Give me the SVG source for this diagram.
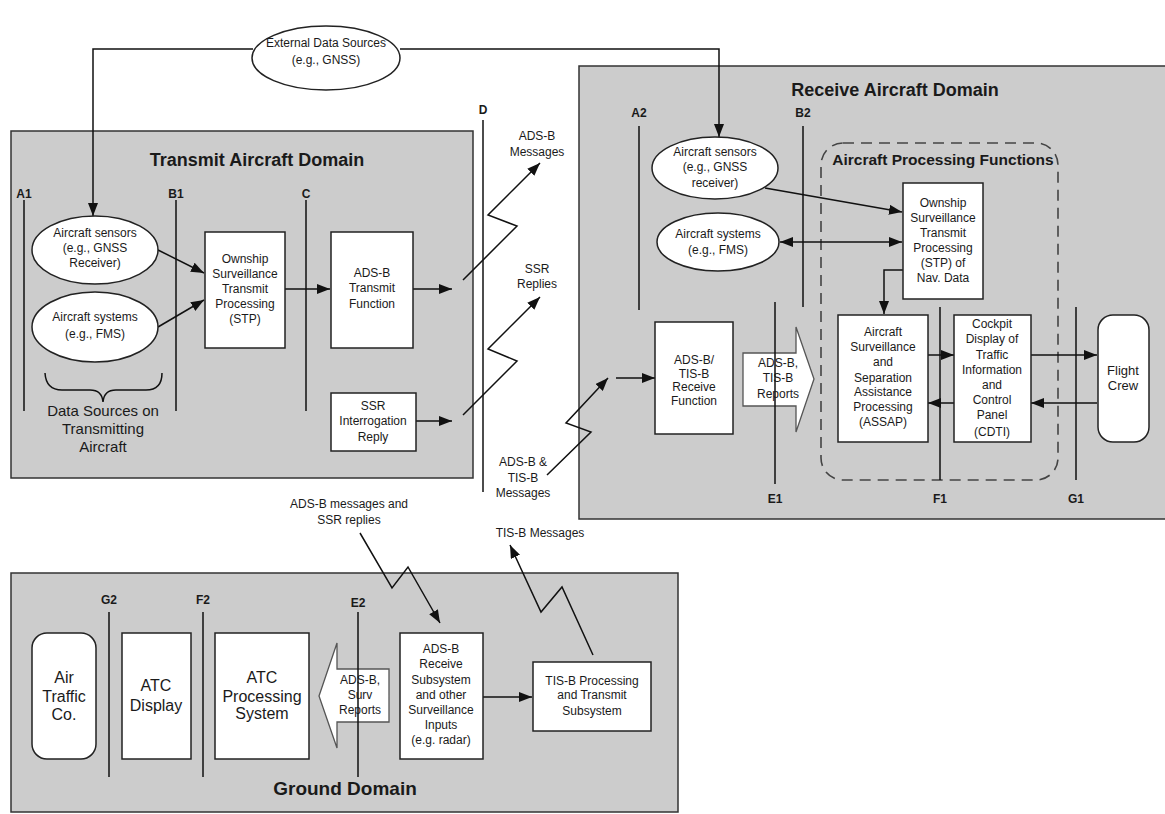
<svg xmlns="http://www.w3.org/2000/svg" width="1165" height="814" viewBox="0 0 1165 814">
<style>
.dom{fill:#cccccc;stroke:#333;stroke-width:1.5}
.box{fill:#fff;stroke:#222;stroke-width:1.5}
.ell{fill:#fff;stroke:#222;stroke-width:1.5}
.hol{fill:#fff;stroke:#555;stroke-width:1.3}
.ln{fill:none;stroke:#111;stroke-width:1.5}
.ar{fill:none;stroke:#111;stroke-width:1.5;marker-end:url(#ah)}
.dash{fill:none;stroke:#444;stroke-width:1.6;stroke-dasharray:11,7}
text{font-family:"Liberation Sans",Arial,sans-serif;fill:#1a1a1a;text-anchor:middle}
.t12{font-size:12px}
.t15{font-size:15px}
.t16{font-size:16px}
.lb{font-size:12px;font-weight:bold}
.h16{font-size:18px;font-weight:bold}
.h14{font-size:15.5px;font-weight:bold}
.h18{font-size:19px;font-weight:bold}
</style>
<defs>
<marker id="ah" markerUnits="userSpaceOnUse" markerWidth="14" markerHeight="10" refX="13" refY="5" orient="auto-start-reverse">
<path d="M0,0 L13,5 L0,10 z" fill="#111"/>
</marker>
</defs>

<!-- Domains -->
<g id="transmit-domain">
<rect class="dom" x="11" y="131" width="462" height="347"/>
<text class="h16" x="257" y="166">Transmit Aircraft Domain</text>
</g>
<g id="receive-domain">
<rect class="dom" x="579" y="66" width="600" height="453"/>
<text class="h16" x="895" y="96">Receive Aircraft Domain</text>
</g>
<g id="ground-domain">
<rect class="dom" x="11" y="573" width="667" height="239"/>
<text class="h18" x="345" y="795">Ground Domain</text>
</g>
<g id="processing-functions">
<rect class="dash" x="821" y="143" width="237" height="337" rx="22"/>
<text class="h14" x="943" y="165">Aircraft Processing Functions</text>
</g>

<!-- Hollow arrows -->
<g id="adsb-tisb-reports">
<polygon class="hol" points="743,353 796,353 796,327 814,379 796,432 796,406 743,406"/>
<text class="t12" x="778" y="367">ADS-B,</text>
<text class="t12" x="778" y="382">TIS-B</text>
<text class="t12" x="778" y="398">Reports</text>
</g>
<g id="adsb-surv-reports">
<polygon class="hol" points="389,669 337,669 337,643 319,696 337,748 337,722 389,722"/>
<text class="t12" x="360" y="684">ADS-B,</text>
<text class="t12" x="360" y="699">Surv</text>
<text class="t12" x="360" y="714">Reports</text>
</g>

<!-- Reference lines -->
<g id="reference-lines">
<line class="ln" x1="24" y1="200" x2="24" y2="411"/>
<line class="ln" x1="176" y1="200" x2="176" y2="411"/>
<line class="ln" x1="306" y1="200" x2="306" y2="411"/>
<line class="ln" x1="483" y1="120" x2="483" y2="492"/>
<line class="ln" x1="639" y1="126" x2="639" y2="310"/>
<line class="ln" x1="803" y1="126" x2="803" y2="307"/>
<line class="ln" x1="775" y1="302" x2="775" y2="484"/>
<line class="ln" x1="940" y1="307" x2="940" y2="480"/>
<line class="ln" x1="1076" y1="307" x2="1076" y2="480"/>
<line class="ln" x1="109" y1="612" x2="109" y2="777"/>
<line class="ln" x1="203" y1="612" x2="203" y2="777"/>
<line class="ln" x1="358" y1="612" x2="358" y2="777"/>
<text class="lb" x="24" y="198">A1</text>
<text class="lb" x="176" y="198">B1</text>
<text class="lb" x="306" y="198">C</text>
<text class="lb" x="483" y="114">D</text>
<text class="lb" x="639" y="117">A2</text>
<text class="lb" x="803" y="117">B2</text>
<text class="lb" x="775" y="503">E1</text>
<text class="lb" x="940" y="503">F1</text>
<text class="lb" x="1076" y="503">G1</text>
<text class="lb" x="109" y="604">G2</text>
<text class="lb" x="203" y="604">F2</text>
<text class="lb" x="358" y="607">E2</text>
</g>

<!-- Connectors -->
<g id="connectors">
<polyline class="ar" points="253,49 93,49 93,216"/>
<polyline class="ar" points="400,49 719,49 719,137"/>
<line class="ar" x1="158" y1="250" x2="204" y2="273"/>
<line class="ar" x1="158" y1="327" x2="204" y2="300"/>
<line class="ar" x1="285" y1="289" x2="330" y2="289"/>
<line class="ar" x1="413" y1="289" x2="452" y2="289"/>
<line class="ar" x1="416" y1="421" x2="452" y2="421"/>
<polyline class="ar" points="463,280 517,226 488,215 540,163"/>
<polyline class="ar" points="463,415 517,361 488,349 540,297"/>
<polyline class="ar" points="547,475 591,432 566,423 608,378"/>
<line class="ar" x1="616" y1="378" x2="655" y2="378"/>
<line class="ar" x1="765" y1="188" x2="902" y2="212"/>
<line class="ar" style="marker-start:url(#ah)" x1="780" y1="242" x2="902" y2="242"/>
<polyline class="ar" points="903,270 884,270 884,314"/>
<line class="ar" x1="928" y1="355" x2="954" y2="355"/>
<line class="ar" x1="954" y1="403" x2="928" y2="403"/>
<line class="ar" x1="1031" y1="355" x2="1097" y2="355"/>
<line class="ar" x1="1097" y1="403" x2="1031" y2="403"/>
<polyline class="ar" points="360,533 392,588 408,567 440,623"/>
<line class="ar" x1="483" y1="697" x2="532" y2="697"/>
<polyline class="ar" points="593,655 562,587 541,612 510,545"/>
<path class="ln" d="M45,373 Q46,390 62,390 L90,390 Q102,390 103,402 Q104,390 116,390 L146,390 Q162,390 162,373"/>
</g>

<!-- Free labels -->
<g id="link-labels">
<text class="t12" x="537" y="140">ADS-B</text>
<text class="t12" x="537" y="156">Messages</text>
<text class="t12" x="537" y="273">SSR</text>
<text class="t12" x="537" y="288">Replies</text>
<text class="t12" x="523" y="466">ADS-B &amp;</text>
<text class="t12" x="523" y="482">TIS-B</text>
<text class="t12" x="523" y="497">Messages</text>
<text class="t12" x="540" y="537">TIS-B Messages</text>
<text class="t12" x="349" y="508">ADS-B messages and</text>
<text class="t12" x="349" y="524">SSR replies</text>
<text class="t15" x="103" y="416">Data Sources on</text>
<text class="t15" x="103" y="434">Transmitting</text>
<text class="t15" x="103" y="452">Aircraft</text>
</g>

<!-- Nodes -->
<g id="external-data-sources">
<ellipse class="ell" cx="326" cy="58" rx="74" ry="32"/>
<text class="t12" x="326" y="47">External Data Sources</text>
<text class="t12" x="326" y="64">(e.g., GNSS)</text>
</g>
<g id="tx-aircraft-sensors">
<ellipse class="ell" cx="95" cy="250" rx="63" ry="34"/>
<text class="t12" x="95" y="237">Aircraft sensors</text>
<text class="t12" x="95" y="252">(e.g., GNSS</text>
<text class="t12" x="95" y="267">Receiver)</text>
</g>
<g id="tx-aircraft-systems">
<ellipse class="ell" cx="95" cy="327" rx="63" ry="35"/>
<text class="t12" x="95" y="321">Aircraft systems</text>
<text class="t12" x="95" y="338">(e.g., FMS)</text>
</g>
<g id="tx-stp">
<rect class="box" x="205" y="232" width="80" height="116"/>
<text class="t12" x="245" y="263">Ownship</text>
<text class="t12" x="245" y="278">Surveillance</text>
<text class="t12" x="245" y="293">Transmit</text>
<text class="t12" x="245" y="308">Processing</text>
<text class="t12" x="245" y="323">(STP)</text>
</g>
<g id="adsb-transmit">
<rect class="box" x="331" y="232" width="82" height="116"/>
<text class="t12" x="372" y="277">ADS-B</text>
<text class="t12" x="372" y="292">Transmit</text>
<text class="t12" x="372" y="308">Function</text>
</g>
<g id="ssr-reply">
<rect class="box" x="331" y="393" width="85" height="58"/>
<text class="t12" x="373" y="410">SSR</text>
<text class="t12" x="373" y="425">Interrogation</text>
<text class="t12" x="373" y="441">Reply</text>
</g>
<g id="rx-aircraft-sensors">
<ellipse class="ell" cx="715" cy="168" rx="63" ry="31"/>
<text class="t12" x="715" y="156">Aircraft sensors</text>
<text class="t12" x="715" y="171">(e.g., GNSS</text>
<text class="t12" x="715" y="187">receiver)</text>
</g>
<g id="rx-aircraft-systems">
<ellipse class="ell" cx="718" cy="242" rx="61" ry="29"/>
<text class="t12" x="718" y="238">Aircraft systems</text>
<text class="t12" x="718" y="254">(e.g., FMS)</text>
</g>
<g id="rx-stp">
<rect class="box" x="903" y="183" width="80" height="116"/>
<text class="t12" x="943" y="207">Ownship</text>
<text class="t12" x="943" y="222">Surveillance</text>
<text class="t12" x="943" y="237">Transmit</text>
<text class="t12" x="943" y="252">Processing</text>
<text class="t12" x="943" y="267">(STP) of</text>
<text class="t12" x="943" y="282">Nav. Data</text>
</g>
<g id="rx-receive-function">
<rect class="box" x="655" y="322" width="78" height="112"/>
<text class="t12" x="694" y="364">ADS-B/</text>
<text class="t12" x="694" y="378">TIS-B</text>
<text class="t12" x="694" y="391">Receive</text>
<text class="t12" x="694" y="405">Function</text>
</g>
<g id="assap">
<rect class="box" x="838" y="315" width="90" height="127"/>
<text class="t12" x="883" y="336">Aircraft</text>
<text class="t12" x="883" y="351">Surveillance</text>
<text class="t12" x="883" y="366">and</text>
<text class="t12" x="883" y="382">Separation</text>
<text class="t12" x="883" y="396">Assistance</text>
<text class="t12" x="883" y="411">Processing</text>
<text class="t12" x="883" y="426">(ASSAP)</text>
</g>
<g id="cdti">
<rect class="box" x="954" y="315" width="77" height="127"/>
<text class="t12" x="992" y="328">Cockpit</text>
<text class="t12" x="992" y="343">Display of</text>
<text class="t12" x="992" y="359">Traffic</text>
<text class="t12" x="992" y="374">Information</text>
<text class="t12" x="992" y="389">and</text>
<text class="t12" x="992" y="404">Control</text>
<text class="t12" x="992" y="419">Panel</text>
<text class="t12" x="992" y="436">(CDTI)</text>
</g>
<g id="flight-crew">
<rect class="box" x="1098" y="315" width="51" height="127" rx="15"/>
<text class="t12" x="1123" y="375" style="font-size:13px">Flight</text>
<text class="t12" x="1123" y="390" style="font-size:13px">Crew</text>
</g>
<g id="air-traffic-co">
<rect class="box" x="32" y="633" width="64" height="126" rx="15"/>
<text class="t16" x="64" y="683">Air</text>
<text class="t16" x="64" y="702">Traffic</text>
<text class="t16" x="64" y="720">Co.</text>
</g>
<g id="atc-display">
<rect class="box" x="122" y="633" width="69" height="126"/>
<text class="t16" x="156" y="691">ATC</text>
<text class="t16" x="156" y="711">Display</text>
</g>
<g id="atc-processing">
<rect class="box" x="215" y="633" width="94" height="126"/>
<text class="t16" x="262" y="683">ATC</text>
<text class="t16" x="262" y="702">Processing</text>
<text class="t16" x="262" y="719">System</text>
</g>
<g id="adsb-receive-subsystem">
<rect class="box" x="400" y="633" width="83" height="126"/>
<text class="t12" x="441" y="653">ADS-B</text>
<text class="t12" x="441" y="668">Receive</text>
<text class="t12" x="441" y="684">Subsystem</text>
<text class="t12" x="441" y="699">and other</text>
<text class="t12" x="441" y="714">Surveillance</text>
<text class="t12" x="441" y="729">Inputs</text>
<text class="t12" x="441" y="744">(e.g. radar)</text>
</g>
<g id="tisb-processing">
<rect class="box" x="533" y="662" width="118" height="69"/>
<text class="t12" x="592" y="685">TIS-B Processing</text>
<text class="t12" x="592" y="699">and Transmit</text>
<text class="t12" x="592" y="715">Subsystem</text>
</g>
</svg>
